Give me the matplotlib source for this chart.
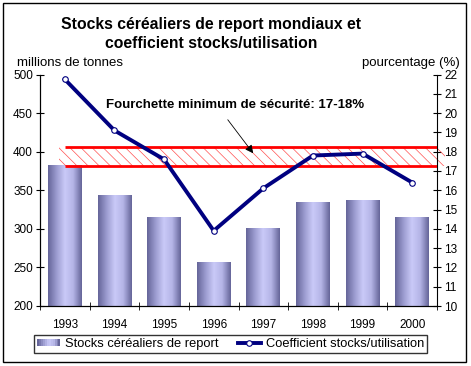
import numpy as np
import matplotlib.pyplot as plt
from matplotlib.patches import Rectangle
from matplotlib.lines import Line2D
from matplotlib.legend_handler import HandlerBase
from matplotlib.colors import LinearSegmentedColormap

plt.rcParams['font.family'] = ['Liberation Sans', 'DejaVu Sans']
plt.rcParams['hatch.linewidth'] = 0.5

years = ['1993', '1994', '1995', '1996', '1997', '1998', '1999', '2000']
stocks = [382, 343, 315, 257, 301, 334, 337, 315]   # millions de tonnes
ratio = [21.75, 19.1, 17.6, 13.9, 16.1, 17.8, 17.9, 16.4]  # %
band_low, band_high = 17.25, 18.25

bar_cmap = LinearSegmentedColormap.from_list(
    'cyl', ['#66669a', '#9c9cd0', '#cacaf8', '#b4b4e6', '#66669a'])

fig = plt.figure(figsize=(4.71, 3.66), dpi=100)
ax = fig.add_axes([40 / 471, 1 - 306 / 366, 397 / 471, (306 - 74.5) / 366])
ax2 = ax.twinx()

x = np.arange(len(years))
bars = ax.bar(x, stocks, width=0.68, bottom=0, color='none', edgecolor='none', zorder=1)
grad = bar_cmap(np.linspace(0, 1, 64))[None, :, :3]
for b in bars:
    ax.imshow(grad, extent=(b.get_x(), b.get_x() + b.get_width(), 200, b.get_height()),
              aspect='auto', zorder=1, interpolation='bilinear')

ax.set_xlim(-0.5, len(years) - 0.5)
ax.set_ylim(200, 500)
ax.set_yticks(np.arange(200, 501, 50))
ax.set_xticks(x)
ax.set_xticklabels(years)
ax.set_xticks(np.arange(-0.5, len(years), 1), minor=True)
ax.tick_params(axis='x', which='major', length=0, labelsize=8.5, pad=9)
ax.tick_params(axis='x', which='minor', length=6, direction='inout')
ax.tick_params(axis='y', length=6, direction='inout', labelsize=8.5, pad=2)

# security band on the percentage axis
ax2.set_ylim(10, 22)
ax2.set_yticks(np.arange(10, 23, 1))
ax2.tick_params(axis='y', length=6, direction='inout', labelsize=8.5, pad=2)
ax2.add_patch(Rectangle((-0.12, band_low), 7.78, band_high - band_low,
                        facecolor='none', edgecolor='#ff5050', hatch='\\\\\\', linewidth=0,
                        zorder=2, clip_on=False))
ax2.hlines([band_low, band_high], 0, len(years) - 0.5, colors='red', linewidth=2, zorder=3)
ax2.plot(x, ratio, color='#000080', linewidth=2.8, zorder=4,
         marker='o', markersize=4, markerfacecolor='white', markeredgecolor='#000080',
         markeredgewidth=0.8)

for a in (ax, ax2):
    a.spines['top'].set_visible(False)
    a.patch.set_visible(False)
ax.spines['right'].set_visible(False)

ax2.annotate('', xy=(3.83, 17.8), xytext=(3.25, 19.77),
             arrowprops=dict(arrowstyle='-|>', color='black', lw=0.6, mutation_scale=12))
fig.text(235 / 471, 1 - 105 / 366, 'Fourchette minimum de sécurité: 17-18%',
         ha='center', va='center', fontsize=9.5, fontweight='bold')

fig.text(211 / 471, 1 - 34 / 366, 'Stocks céréaliers de report mondiaux et\ncoefficient stocks/utilisation',
         ha='center', va='center', fontsize=11.3, fontweight='bold', linespacing=1.25)
fig.text(17 / 471, 1 - 63 / 366, 'millions de tonnes', ha='left', va='center', fontsize=9.5)
fig.text(460 / 471, 1 - 63 / 366, 'pourcentage (%)', ha='right', va='center', fontsize=9.5)


class GradientHandler(HandlerBase):
    def create_artists(self, legend, orig_handle, xdescent, ydescent, width, height, fontsize, trans):
        n = 12
        cols = bar_cmap(np.linspace(0, 1, n))
        w = width / n
        return [Rectangle((-xdescent + i * w, -ydescent + height * 0.1), w, height * 0.8,
                          facecolor=cols[i], edgecolor='none', transform=trans) for i in range(n)]


bar_handle = Rectangle((0, 0), 1, 1)
line_handle = Line2D([], [], color='#000080', linewidth=2.8, marker='o', markersize=4,
                     markerfacecolor='white', markeredgecolor='#000080', markeredgewidth=0.8)
leg = fig.legend([bar_handle, line_handle],
                 ['Stocks céréaliers de report', 'Coefficient stocks/utilisation'],
                 handler_map={Rectangle: GradientHandler()},
                 loc='center', bbox_to_anchor=(230.5 / 471, 1 - 344 / 366), ncol=2,
                 fontsize=9.3, frameon=True, fancybox=False, edgecolor='black',
                 handlelength=1.8, handletextpad=0.35, columnspacing=1.5,
                 borderpad=0.25, borderaxespad=0, markerscale=1)
leg.get_frame().set_linewidth(1)

fig.patches.append(Rectangle((3 / 471, 1 - 362 / 366), 463 / 471, 359 / 366,
                             transform=fig.transFigure, fill=False, edgecolor='black',
                             linewidth=1))

fig.savefig('out.png', dpi=100)
